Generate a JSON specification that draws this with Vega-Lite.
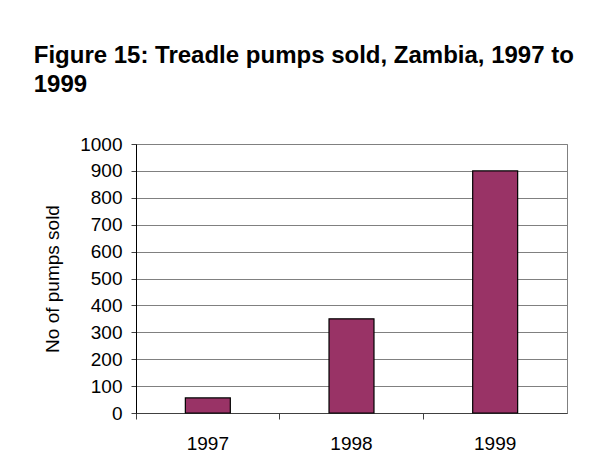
{
  "$schema": "https://vega.github.io/schema/vega-lite/v6.json",
  "width": 431,
  "height": 269,
  "autosize": {"type": "none"},
  "padding": {"left": 136, "top": 144, "right": 27, "bottom": 59},
  "background": "white",
  "config": {
    "font": "Liberation Sans",
    "view": {"stroke": "#808080", "strokeWidth": 1}
  },
  "title": {
    "text": ["Figure 15: Treadle pumps sold, Zambia, 1997 to", "1999"],
    "anchor": "start",
    "frame": "bounds",
    "fontSize": 24,
    "fontWeight": "bold",
    "font": "Liberation Sans",
    "color": "#000000",
    "lineHeight": 29,
    "offset": 38,
    "dx": -10
  },
  "data": {
    "values": [
      {"year": "1997", "pumps": 56},
      {"year": "1998", "pumps": 350},
      {"year": "1999", "pumps": 900}
    ]
  },
  "mark": {"type": "bar", "fill": "#993366", "stroke": "#000000", "strokeWidth": 1.2, "width": {"band": 0.313}},
  "encoding": {
    "x": {
      "field": "year",
      "type": "nominal",
      "scale": {"paddingInner": 0, "paddingOuter": 0},
      "axis": {
        "title": null,
        "labelAngle": 0,
        "labelFontSize": 19,
        "labelColor": "#000000",
        "labelPadding": 15,
        "bandPosition": 0,
        "tickSize": 6,
        "tickColor": "#404040",
        "domainColor": "#404040",
        "grid": false
      }
    },
    "y": {
      "field": "pumps",
      "type": "quantitative",
      "scale": {"domain": [0, 1000], "nice": false},
      "axis": {
        "title": "No of pumps sold",
        "titleFontSize": 19,
        "titleFontWeight": "normal",
        "titleColor": "#000000",
        "titlePadding": 17,
        "format": "d",
        "values": [0, 100, 200, 300, 400, 500, 600, 700, 800, 900, 1000],
        "labelFontSize": 19,
        "labelColor": "#000000",
        "labelPadding": 9,
        "tickSize": 5,
        "tickColor": "#404040",
        "domainColor": "#000000",
        "gridColor": "#808080",
        "gridOpacity": 1
      }
    }
  }
}
